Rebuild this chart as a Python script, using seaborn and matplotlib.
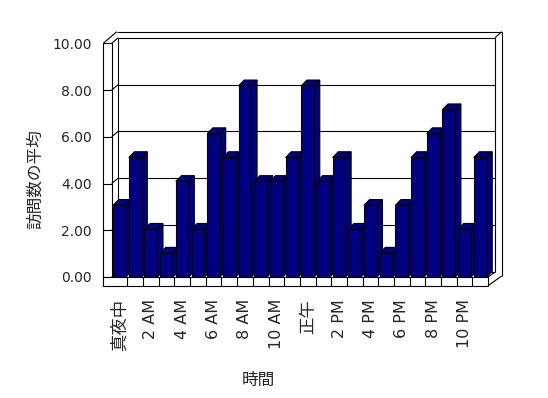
import matplotlib
matplotlib.use('Agg')
import matplotlib.pyplot as plt
from matplotlib.patches import Polygon, Rectangle
import seaborn as sns
import pandas as pd

# data
hours = ['0', '1', '2', '3', '4', '5', '6', '7', '8', '9', '10', '11',
         '12', '13', '14', '15', '16', '17', '18', '19', '20', '21', '22', '23']
visits = [3, 5, 2, 1, 4, 2, 6, 5, 8, 4, 4, 5, 8, 4, 5, 2, 3, 1, 3, 5, 6, 7, 2, 5]
tick_labels = ['真夜中', '2 AM', '4 AM', '6 AM', '8 AM', '10 AM',
               '正午', '2 PM', '4 PM', '6 PM', '8 PM', '10 PM']
y_ticks = [0, 2, 4, 6, 8, 10]

sns.set_style('white')
plt.rcParams['font.family'] = ['DejaVu Sans', 'Noto Sans CJK JP']

W, H = 548, 398
CW, VH = 15.68, 23.9          # pixels per category / per value unit
X0, Y0 = 111.7, 277.0          # pixel of x=-0.5 and y=0
L, R, T, B = 100, 515, 25, 290

fig = plt.figure(figsize=(W / 100, H / 100), dpi=100)
ax = fig.add_axes([L / W, 1 - B / H, (R - L) / W, (B - T) / H])

df = pd.DataFrame({'hour': hours, 'visits': visits})
sns.barplot(data=df, x='hour', y='visits', order=hours, color='#000080',
            saturation=1, width=0.82, edgecolor='black', linewidth=0.8, ax=ax)

ax.set_xlim(-0.5 + (L - X0) / CW, -0.5 + (R - X0) / CW)
ax.set_ylim((Y0 - B) / VH, (Y0 - T) / VH)

# 3d look for the bars
dx, dy = 0.36, 0.24
for i, p in enumerate(list(ax.patches)):
    x0, w, h = p.get_x(), p.get_width(), p.get_height()
    x1 = x0 + w
    fc = p.get_facecolor()
    p.set_zorder(3 + 0.02 * i + 0.01)
    top = Polygon([(x0, h), (x1, h), (x1 + dx, h + dy), (x0 + dx, h + dy)],
                  closed=True, facecolor=fc, edgecolor='black', lw=0.8, zorder=3 + 0.02 * i)
    side = Polygon([(x1, 0), (x1, h), (x1 + dx, h + dy), (x1 + dx, dy)],
                   closed=True, facecolor=fc, edgecolor='black', lw=0.8, zorder=3 + 0.02 * i)
    ax.add_patch(top)
    ax.add_patch(side)

# walls and floor
kf = 0.978            # wall scale vs bar scale
wdy = 0.23            # back wall shift up
xo = -0.5 - 8.4 / CW  # left wall outer x
xi = -0.5             # left wall inner front x
xb = -0.5 + 6.6 / CW  # back wall left x
xr = -0.5 + (495 - X0) / CW
xro = xr + 6.7 / CW
ytop_o = (Y0 - 31.7) / VH
yfl = -8.7 / VH
n = len(hours)

line = dict(color='black', lw=0.8, clip_on=False, solid_capstyle='butt')
for v in y_ticks:
    fy = v * kf
    by = fy + wdy
    ax.plot([xb, xr], [by, by], zorder=1, **line)
    ax.plot([xi, xb], [fy, by], zorder=1, **line)
    ax.plot([xo, xi], [fy, fy], zorder=6, **line)

ax.plot([xo, xo], [yfl, 10 * kf], zorder=6, **line)
ax.plot([xi, xi], [0, 10 * kf], zorder=1, **line)
ax.plot([xb, xb], [wdy, 10 * kf + wdy], zorder=1, **line)
ax.plot([xo, xb - 1.5 / CW], [10 * kf, ytop_o], zorder=1, **line)
ax.plot([xb - 1.5 / CW, xro], [ytop_o, ytop_o], zorder=1, **line)
ax.plot([xr, xro], [10 * kf + wdy, ytop_o], zorder=1, **line)
ax.plot([xr, xr], [10 * kf + wdy, wdy], zorder=1, **line)
ax.plot([xro, xro], [ytop_o, wdy - 0.2], zorder=1, **line)

# floor front strip with cells
ax.add_patch(Rectangle((xo, yfl), n - 0.5 - xo, -yfl, facecolor='white',
                       edgecolor='black', lw=0.8, zorder=6, clip_on=False))
for k in range(1, n):
    ax.plot([k - 0.5, k - 0.5], [yfl, 0], zorder=6, **line)
ax.plot([n - 0.5, xro - 0.1], [yfl, yfl + 0.36], zorder=6, **line)
ax.plot([n - 0.5, xr - 0.05], [0, wdy - 0.05], zorder=6, **line)
ax.plot([xro - 0.1, xro], [yfl + 0.36, wdy - 0.2], zorder=6, **line)

for s in ax.spines.values():
    s.set_visible(False)

ax.set_xticks(range(0, n, 2), tick_labels, rotation=90, fontsize=11.5)
for t in ax.get_xticklabels():
    if not t.get_text().isascii():
        t.set_fontsize(12.5)
ax.set_yticks([v * kf for v in y_ticks], [f'{v:.2f}' for v in y_ticks], fontsize=10)
ax.tick_params(axis='x', length=0, pad=(299 - B) / 1.389)
ax.tick_params(axis='y', length=0, pad=(L - 92) / 1.389)

ax.set_xlabel('時間', fontsize=12)
ax.xaxis.set_label_coords((258 - L) / (R - L), (B - 380) / (B - T))
ax.xaxis.label.set_verticalalignment('center')
ax.set_ylabel('訪問数の平均', fontsize=12)
ax.yaxis.set_label_coords((35 - L) / (R - L), (B - 179) / (B - T))
ax.yaxis.label.set_verticalalignment('center')
ax.yaxis.label.set_horizontalalignment('center')

fig.savefig('out.png', dpi=100)
